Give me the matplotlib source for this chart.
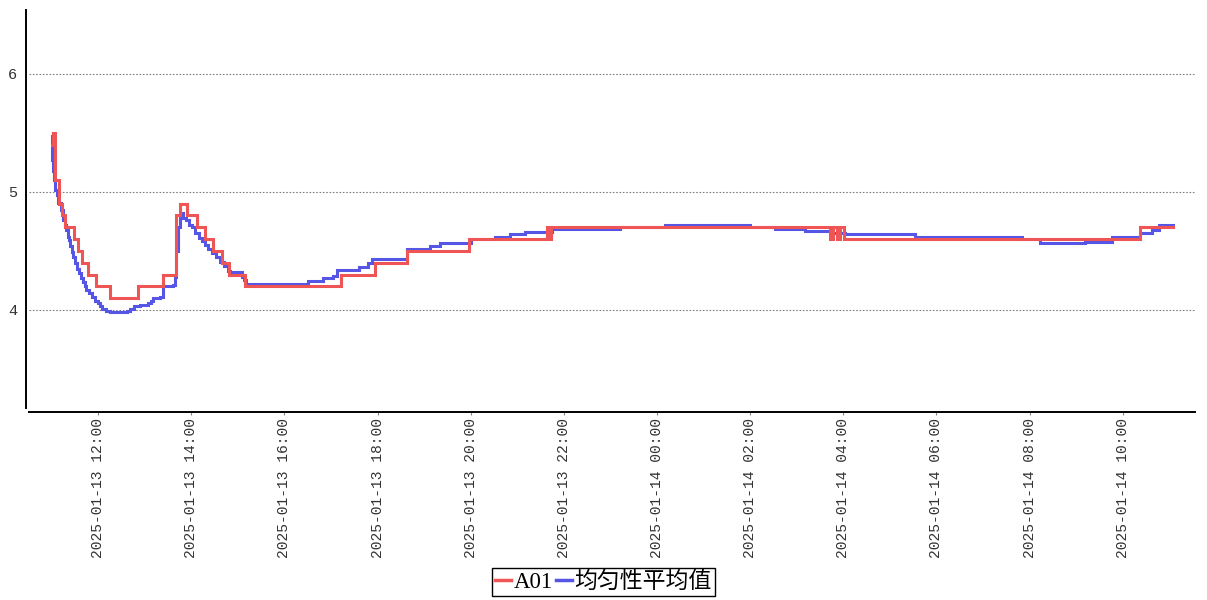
import matplotlib
matplotlib.use('Agg')
import matplotlib.pyplot as plt
import matplotlib.dates as mdates
from matplotlib.lines import Line2D
import pandas as pd

# ---------------- data ----------------
red_times = [
    "2025-01-13 11:00", "2025-01-13 11:02", "2025-01-13 11:05", "2025-01-13 11:10",
    "2025-01-13 11:14", "2025-01-13 11:17", "2025-01-13 11:29", "2025-01-13 11:34",
    "2025-01-13 11:39", "2025-01-13 11:47", "2025-01-13 11:57", "2025-01-13 12:15",
    "2025-01-13 12:51", "2025-01-13 13:24", "2025-01-13 13:41", "2025-01-13 13:46",
    "2025-01-13 13:54", "2025-01-13 14:07", "2025-01-13 14:18", "2025-01-13 14:28",
    "2025-01-13 14:39", "2025-01-13 14:49", "2025-01-13 15:09", "2025-01-13 17:13",
    "2025-01-13 17:57", "2025-01-13 18:38", "2025-01-13 19:58", "2025-01-13 21:38",
    "2025-01-13 21:40", "2025-01-13 21:44", "2025-01-14 03:43", "2025-01-14 03:47",
    "2025-01-14 03:52", "2025-01-14 03:56", "2025-01-14 04:01", "2025-01-14 10:22",
    "2025-01-14 11:05",
]
red_vals = [
    5.4, 5.5, 5.1, 4.9,
    4.8, 4.7, 4.6, 4.5,
    4.4, 4.3, 4.2, 4.1,
    4.2, 4.3, 4.8, 4.9,
    4.8, 4.7, 4.6, 4.5,
    4.4, 4.3, 4.2, 4.3,
    4.4, 4.5, 4.6, 4.7,
    4.6, 4.7, 4.6, 4.7,
    4.6, 4.7, 4.6, 4.7,
    4.7,
]

blue_times = [
    "2025-01-13 11:00", "2025-01-13 11:01", "2025-01-13 11:02", "2025-01-13 11:03",
    "2025-01-13 11:05", "2025-01-13 11:07", "2025-01-13 11:09", "2025-01-13 11:12",
    "2025-01-13 11:15", "2025-01-13 11:17", "2025-01-13 11:19", "2025-01-13 11:21",
    "2025-01-13 11:22", "2025-01-13 11:24", "2025-01-13 11:26", "2025-01-13 11:28",
    "2025-01-13 11:30", "2025-01-13 11:33", "2025-01-13 11:35", "2025-01-13 11:38",
    "2025-01-13 11:41", "2025-01-13 11:43", "2025-01-13 11:45", "2025-01-13 11:48",
    "2025-01-13 11:52", "2025-01-13 11:56", "2025-01-13 12:00", "2025-01-13 12:02",
    "2025-01-13 12:05", "2025-01-13 12:10", "2025-01-13 12:15", "2025-01-13 12:37",
    "2025-01-13 12:41", "2025-01-13 12:46", "2025-01-13 12:54", "2025-01-13 13:04",
    "2025-01-13 13:08", "2025-01-13 13:11", "2025-01-13 13:20", "2025-01-13 13:24",
    "2025-01-13 13:37", "2025-01-13 13:39", "2025-01-13 13:41", "2025-01-13 13:43",
    "2025-01-13 13:45", "2025-01-13 13:47", "2025-01-13 13:50", "2025-01-13 13:53",
    "2025-01-13 13:57", "2025-01-13 14:01", "2025-01-13 14:05", "2025-01-13 14:10",
    "2025-01-13 14:14", "2025-01-13 14:18", "2025-01-13 14:22", "2025-01-13 14:27",
    "2025-01-13 14:32", "2025-01-13 14:37", "2025-01-13 14:42", "2025-01-13 14:47",
    "2025-01-13 14:50", "2025-01-13 15:05", "2025-01-13 15:08", "2025-01-13 15:11",
    "2025-01-13 16:30", "2025-01-13 16:50", "2025-01-13 17:02", "2025-01-13 17:08",
    "2025-01-13 17:36", "2025-01-13 17:48", "2025-01-13 17:53", "2025-01-13 18:38",
    "2025-01-13 19:08", "2025-01-13 19:21", "2025-01-13 20:00", "2025-01-13 20:31",
    "2025-01-13 20:51", "2025-01-13 21:10", "2025-01-13 21:45", "2025-01-13 23:12",
    "2025-01-14 00:10", "2025-01-14 02:00", "2025-01-14 02:32", "2025-01-14 03:10",
    "2025-01-14 03:45", "2025-01-14 04:02", "2025-01-14 05:32", "2025-01-14 07:50",
    "2025-01-14 08:13", "2025-01-14 09:11", "2025-01-14 09:46", "2025-01-14 10:22",
    "2025-01-14 10:37", "2025-01-14 10:47", "2025-01-14 11:05",
]
blue_vals = [
    5.47, 5.27, 5.18, 5.10,
    5.02, 4.97, 4.91, 4.85,
    4.76, 4.72, 4.68, 4.62,
    4.59, 4.54, 4.49, 4.45,
    4.40, 4.35, 4.31, 4.27,
    4.24, 4.20, 4.17, 4.14,
    4.11, 4.08, 4.06, 4.03,
    4.01, 3.99, 3.985, 3.99,
    4.01, 4.03, 4.04, 4.06,
    4.08, 4.10, 4.11, 4.20,
    4.21, 4.28, 4.50, 4.70,
    4.78, 4.82, 4.78, 4.76,
    4.72, 4.70, 4.65, 4.61,
    4.58, 4.55, 4.52, 4.48,
    4.45, 4.41, 4.37, 4.33,
    4.32, 4.28, 4.25, 4.22,
    4.245, 4.27, 4.29, 4.34,
    4.36, 4.40, 4.43, 4.52,
    4.545, 4.565, 4.60, 4.62,
    4.64, 4.66, 4.685, 4.70,
    4.72, 4.70, 4.686, 4.665,
    4.65, 4.64, 4.62, 4.605,
    4.565, 4.575, 4.62, 4.65,
    4.68, 4.72, 4.72,
]

series_names = ["A01", "均匀性平均值"]
y_ticks = [4, 5, 6]
x_range = ("2025-01-13 10:31", "2025-01-14 11:33")

RED = "#EF5555"
BLUE = "#5656E6"

# ---------------- figure ----------------
plt.rcParams['font.family'] = ['Liberation Mono', 'DejaVu Sans']

W, H = 1207, 600
fig = plt.figure(figsize=(W / 100, H / 100), dpi=100)
ax = fig.add_axes([29 / W, 1 - 408 / H, (1195 - 29) / W, (408 - 10) / H])

bt = pd.to_datetime(blue_times)
rt = pd.to_datetime(red_times)
ax.plot(bt, blue_vals, drawstyle='steps-post', color=BLUE, lw=2.2, zorder=3,
        solid_joinstyle='miter')
ax.plot(rt, red_vals, drawstyle='steps-post', color=RED, lw=2.2, zorder=4,
        solid_joinstyle='miter')

ax.set_xlim(pd.Timestamp(x_range[0]), pd.Timestamp(x_range[1]))
ax.set_ylim(3.17, 6.54)
ax.set_yticks(y_ticks)
ax.yaxis.grid(True, linestyle=(0, (1.5, 1.5)), color='#808080', lw=0.8)

ax.xaxis.set_major_locator(mdates.HourLocator(byhour=range(0, 24, 2)))
ax.xaxis.set_major_formatter(mdates.DateFormatter('%Y-%m-%d %H:%M'))

ax.tick_params(axis='y', length=0, pad=6.5, labelsize=11, colors='#333333')
ax.tick_params(axis='x', length=2.5, width=0.8, pad=2, labelsize=10.5,
               labelrotation=90, colors='#333333')
ax.tick_params(axis='x', color='#888888')

for s in ['top', 'right']:
    ax.spines[s].set_visible(False)
ax.spines['left'].set_position(('outward', 2.2))
ax.spines['bottom'].set_position(('outward', 2.9))
for s in ['left', 'bottom']:
    ax.spines[s].set_linewidth(1.4)
    ax.spines[s].set_color('black')

handles = [Line2D([], [], color=RED, lw=2.5), Line2D([], [], color=BLUE, lw=2.5)]
leg = fig.legend(handles=handles, labels=series_names, loc='center',
                 bbox_to_anchor=(0.5, 1 - 582 / H), ncol=2,
                 prop={'family': ['Liberation Serif', 'Noto Sans CJK SC'], 'size': 16.5},
                 handlelength=0.7, handletextpad=0.1, columnspacing=0.15,
                 borderpad=0.15, borderaxespad=0, frameon=True, fancybox=False,
                 edgecolor='black', framealpha=1)
leg.get_frame().set_linewidth(1.0)

fig.savefig('out.png', dpi=100)
